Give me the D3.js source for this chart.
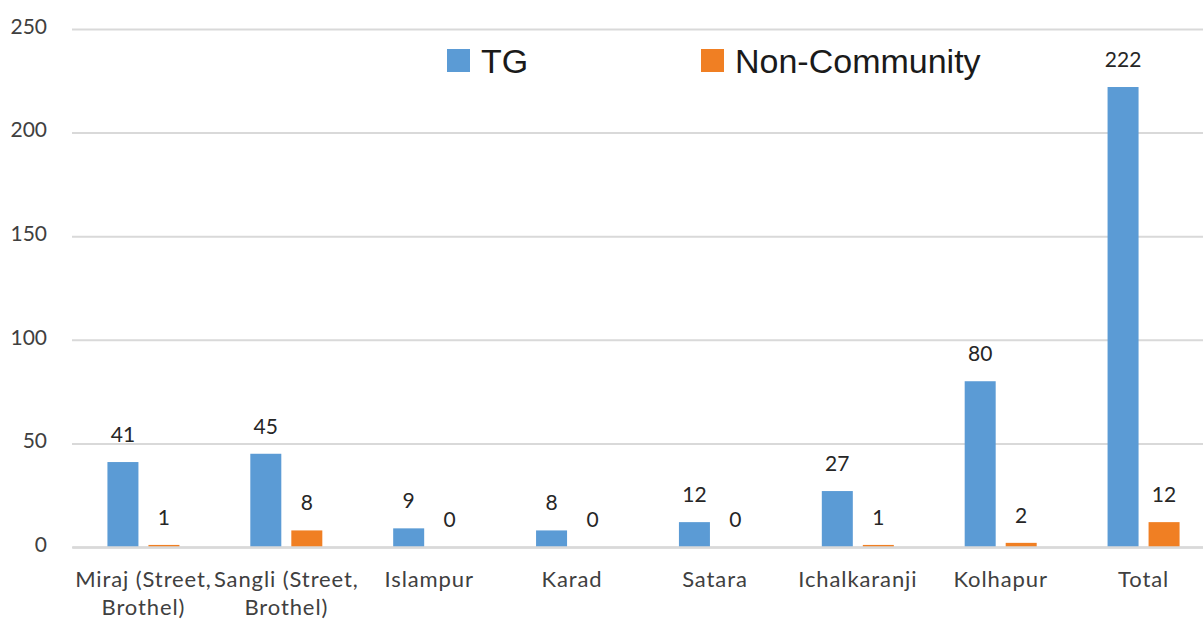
<!DOCTYPE html>
<html>
<head>
<meta charset="utf-8">
<script src="https://cdn.jsdelivr.net/npm/d3@7"></script>
<style>
  html, body { margin: 0; padding: 0; background: #ffffff; }
  svg { display: block; }
</style>
</head>
<body>
<svg id="chart" width="1203" height="622"></svg>
<script>
const categories = ["Miraj (Street, Brothel)", "Sangli (Street, Brothel)", "Islampur", "Karad", "Satara", "Ichalkaranji", "Kolhapur", "Total"];
const seriesNames = ["TG", "Non-Community"];
const tgValues = [41, 45, 9, 8, 12, 27, 80, 222];
const nonCommunityValues = [1, 8, 0, 0, 0, 1, 2, 12];
const yTicks = [0, 50, 100, 150, 200, 250];
const colors = ["#5B9BD5", "#F07F23"];

(function () {
const svg = d3.select("#chart");
const plotLeft = 72, plotRight = 1215, plotTop = 29, plotBottom = 547;

const x0 = d3.scaleBand().domain(categories).range([plotLeft, plotRight]).paddingInner(0.496).paddingOuter(0.248);
const x1 = d3.scaleBand().domain(seriesNames).range([0, x0.bandwidth()]).paddingInner(0.244).paddingOuter(0);
const y = d3.scaleLinear().domain([0, 250]).range([plotBottom, plotTop]);
const color = d3.scaleOrdinal().domain(seriesNames).range(colors);

const valuesBySeries = { "TG": tgValues, "Non-Community": nonCommunityValues };

// gridlines + y axis
const yAxis = d3.axisLeft(y).tickValues(yTicks).tickSize(-(plotRight - plotLeft)).tickPadding(25);
const gy = svg.append("g").attr("transform", `translate(${plotLeft},0)`).call(yAxis);
gy.select(".domain").remove();
gy.selectAll(".tick line").attr("stroke", "#d9d9d9").attr("stroke-width", 2);
gy.selectAll(".tick text")
  .attr("font-family", "Lato, 'Open Sans', sans-serif")
  .attr("font-size", 21)
  .attr("fill", "#404040")
  .attr("dy", "0.2em");

// bars
const groups = svg.append("g").selectAll("g")
  .data(categories)
  .join("g")
  .attr("transform", d => `translate(${x0(d)},0)`);

groups.selectAll("rect")
  .data((d, i) => seriesNames.map(s => ({ s, v: valuesBySeries[s][i] })))
  .join("rect")
  .attr("x", d => x1(d.s))
  .attr("width", x1.bandwidth())
  .attr("y", d => y(d.v))
  .attr("height", d => y(0) - y(d.v))
  .attr("fill", d => color(d.s));

groups.selectAll("text.val")
  .data((d, i) => seriesNames.map(s => ({ s, v: valuesBySeries[s][i] })))
  .join("text")
  .attr("class", "val")
  .attr("x", d => x1(d.s) + x1.bandwidth() / 2)
  .attr("y", d => y(d.v) - 20)
  .attr("text-anchor", "middle")
  .attr("font-family", "Lato, 'Open Sans', sans-serif")
  .attr("font-size", 21)
  .attr("fill", "#262626")
  .text(d => d.v);

// x axis: baseline drawn over the bars, labels below
const xAxis = d3.axisBottom(x0).tickSize(0).tickPadding(0);
const gx = svg.append("g").attr("transform", `translate(0,${plotBottom})`).call(xAxis);
gx.select(".domain").attr("stroke", "#d9d9d9").attr("stroke-width", 2.5);
gx.selectAll(".tick text").each(function(d) {
  const t = d3.select(this);
  t.text(null)
   .attr("font-family", "Lato, 'Open Sans', sans-serif")
   .attr("font-size", 22)
   .attr("letter-spacing", "0.9px")
   .attr("fill", "#404040")
   .attr("y", 0)
   .attr("dy", null);
  const idx = d.indexOf(", ");
  const lines = idx >= 0 ? [d.slice(0, idx + 1), d.slice(idx + 2)] : [d];
  lines.forEach((ln, k) => {
    t.append("tspan").attr("x", 0).attr("y", 40 + k * 28).text(ln);
  });
});

// legend
const legendPos = [447, 701];
const lg = svg.append("g").selectAll("g")
  .data(seriesNames)
  .join("g")
  .attr("transform", (d, i) => `translate(${legendPos[i]},49)`);
lg.append("rect").attr("width", 23).attr("height", 23).attr("fill", d => color(d));
lg.append("text")
  .attr("x", 34)
  .attr("y", 24)
  .attr("font-family", "'Liberation Sans', Arial, sans-serif")
  .attr("font-size", 34)
  .attr("fill", "#1a1a1a")
  .text(d => d);
})();
</script>
</body>
</html>
